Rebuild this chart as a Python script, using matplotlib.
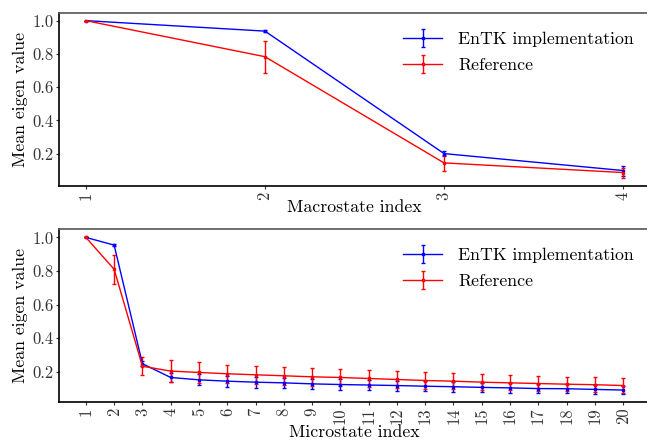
import matplotlib
matplotlib.use("Agg")
import matplotlib.pyplot as plt
import numpy as np

plt.rcParams['font.family'] = ['cmr10', 'DejaVu Serif']
plt.rcParams['mathtext.fontset'] = 'cm'
plt.rcParams['axes.formatter.use_mathtext'] = True
plt.rcParams['font.size'] = 13

# Macrostate data
macro_idx = [1, 2, 3, 4]
macro_entk = [1.0, 0.937, 0.200, 0.098]
macro_entk_err = [0.0, 0.004, 0.015, 0.03]
macro_ref = [1.0, 0.783, 0.144, 0.086]
macro_ref_err = [0.0, 0.096, 0.048, 0.03]

# Microstate data
micro_idx = list(range(1, 21))
micro_entk = [1.0, 0.954, 0.248, 0.166, 0.152, 0.144, 0.138, 0.134, 0.128, 0.124,
              0.121, 0.118, 0.114, 0.111, 0.107, 0.104, 0.100, 0.099, 0.095, 0.091]
micro_entk_err = [0.0, 0.004, 0.015, 0.025, 0.032, 0.032, 0.032, 0.031, 0.031, 0.031,
                  0.030, 0.030, 0.030, 0.029, 0.029, 0.028, 0.028, 0.027, 0.027, 0.026]
micro_ref = [1.0, 0.810, 0.233, 0.204, 0.196, 0.188, 0.182, 0.176, 0.170, 0.166,
             0.160, 0.154, 0.148, 0.144, 0.138, 0.134, 0.130, 0.126, 0.123, 0.118]
micro_ref_err = [0.0, 0.087, 0.052, 0.067, 0.060, 0.055, 0.055, 0.055, 0.055, 0.052,
                 0.050, 0.049, 0.048, 0.047, 0.046, 0.045, 0.044, 0.043, 0.043, 0.042]

fig = plt.figure(figsize=(6.47, 4.40), dpi=100)
W, H = 647.0, 440.0
ax1 = fig.add_axes([59 / W, 1 - 186 / H, (650 - 59) / W, (186 - 13) / H])
ax2 = fig.add_axes([59 / W, 1 - 402 / H, (650 - 59) / W, (402 - 229) / H])

def draw(ax, x, e, ee, r, re, xlabel, xlim, ylim):
    ax.errorbar(x, e, yerr=ee, color='blue', lw=1, marker='s', ms=1.8,
                capsize=1.5, elinewidth=1, label='EnTK implementation')
    ax.errorbar(x, r, yerr=re, color='red', lw=1, marker='s', ms=1.8,
                capsize=1.5, elinewidth=1, label='Reference')
    ax.set_xlim(*xlim)
    ax.set_ylim(*ylim)
    ax.set_xticks(x)
    ax.set_xticklabels([str(v) for v in x], rotation=90)
    ax.set_yticks([0.2, 0.4, 0.6, 0.8, 1.0])
    ax.set_yticklabels(['0.2', '0.4', '0.6', '0.8', '1.0'])
    ax.set_xlabel(xlabel, labelpad=0, fontsize=12.8)
    ax.set_ylabel('Mean eigen value', labelpad=3, fontsize=12.8)
    ax.tick_params(length=2, width=0.8, colors='#333333', labelsize=12, pad=2)
    for s in ['left', 'bottom']:
        ax.spines[s].set_color('black')
        ax.spines[s].set_linewidth(1.2)
    ax.spines['top'].set_color('#555555')
    ax.spines['top'].set_linewidth(1.2)
    ax.spines['right'].set_visible(False)
    ax.legend(loc='upper right', frameon=False, fontsize=12.8,
              bbox_to_anchor=(1.0, 0.985), handlelength=2.2, labelspacing=0.6,
              handletextpad=0.9)

draw(ax1, macro_idx, macro_entk, macro_entk_err, macro_ref, macro_ref_err,
     'Macrostate index', (0.85, 4.15), (0.005, 1.046))
draw(ax2, micro_idx, micro_entk, micro_entk_err, micro_ref, micro_ref_err,
     'Microstate index', (0.05, 20.95), (0.02, 1.05))

fig.savefig('out.png', dpi=100)
